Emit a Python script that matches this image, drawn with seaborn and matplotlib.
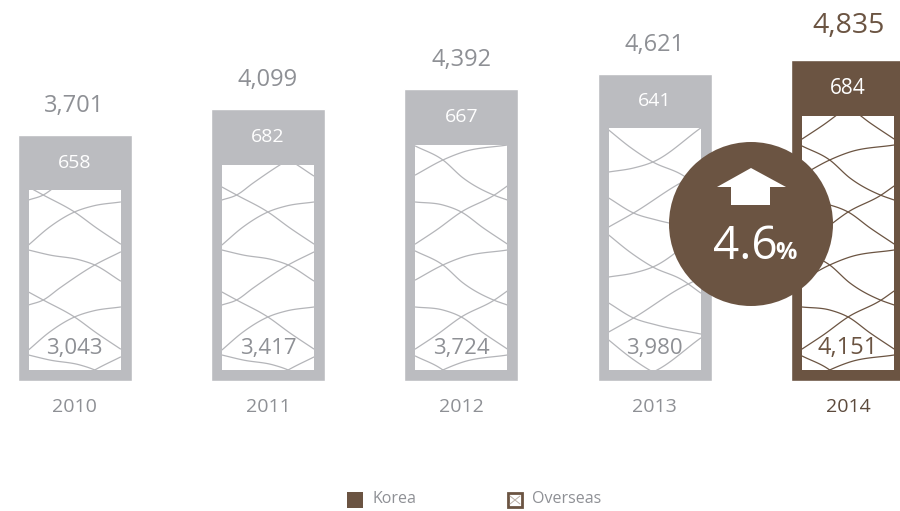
import numpy as np
import pandas as pd
import matplotlib
matplotlib.use("Agg")
import matplotlib.pyplot as plt
from matplotlib.patches import Circle, Polygon, Rectangle
from matplotlib.transforms import Affine2D
import seaborn as sns

years = ["2010", "2011", "2012", "2013", "2014"]
korea = [658, 682, 667, 641, 684]
overseas = [3043, 3417, 3724, 3980, 4151]
totals = [3701, 4099, 4392, 4621, 4835]
growth_label = "4.6"

GREY = "#bbbcc0"
BROWN = "#6b5442"
TEXT_GREY = "#8e9095"

W, H, BASE = 900, 511, 381
PX_PER_UNIT = 0.0664
BAR_W, STEP, FIRST_X = 114, 193.4, 74.5
FRAME = 11

# Lattice strands: (fraction across the window, px above the window floor)
LATTICE_A = [
    [(0, 183), (.16, 175), (.5, 158), (.74, 142), (1, 126)],
    [(0, 125), (.23, 143), (.5, 158), (.7, 164), (1, 168)],
    [(0, 120), (.23, 115), (.56, 110), (.72, 105), (1, 89)],
    [(0, 65), (.16, 70), (.34, 82), (.72, 105), (1, 118)],
]
LATTICE_B = [
    [(0, 224), (.3, 210), (.52, 192), (.85, 175), (1, 170)],
    [(0, 195), (.3, 210), (.52, 218), (1, 225)],
    [(0, 168), (.3, 165), (.5, 158), (.74, 142), (1, 126)],
    [(0, 126), (.23, 140), (.5, 158), (.86, 175), (1, 184)],
]
LATTICE_C = [
    [(0, 240), (.23, 223), (.48, 208), (.8, 195), (1, 182)],
    [(0, 198), (.27, 202), (.48, 208), (1, 242)],
    [(0, 172), (.27, 157), (.52, 150), (1, 141)],
    [(0, 143), (.27, 157), (.8, 188), (1, 197)],
]
window_lattice = [LATTICE_A, LATTICE_A, LATTICE_B, LATTICE_C, LATTICE_B]
PERIOD = 105

sns.set_theme(style="white")
plt.rcParams["font.family"] = ["Open Sans", "DejaVu Sans"]


def smooth(points, n=24):
    """Cubic Hermite curve through (x, y) points with unevenly spaced x."""
    xs, ys = np.array(points, dtype=float).T
    slopes = np.gradient(ys, xs)
    out_x, out_y = [], []
    for i in range(len(xs) - 1):
        h = xs[i + 1] - xs[i]
        t = np.linspace(0, 1, n)
        out_x.append(xs[i] + h * t)
        out_y.append((2 * t**3 - 3 * t**2 + 1) * ys[i] + (t**3 - 2 * t**2 + t) * h * slopes[i]
                     + (-2 * t**3 + 3 * t**2) * ys[i + 1] + (t**3 - t**2) * h * slopes[i + 1])
    return np.concatenate(out_x), np.concatenate(out_y)


fig = plt.figure(figsize=(W / 100, H / 100), dpi=100)
ax = fig.add_axes([0, (H - BASE) / H, 1, BASE / H])
px = Affine2D().scale(1, -1).translate(0, H)

df = pd.DataFrame({"year": years, "total": totals})
colors = [GREY, GREY, GREY, GREY, BROWN]
sns.barplot(data=df, x="year", y="total", hue="year", palette=colors, legend=False,
            width=BAR_W / STEP, saturation=1, ax=ax)
ax.set_xlim(-FIRST_X / STEP, (W - FIRST_X) / STEP)
ax.set_ylim(0, BASE / PX_PER_UNIT)
ax.set_xlabel("")
ax.set_ylabel("")
ax.set_yticks([])
sns.despine(ax=ax, left=True, bottom=True, top=True, right=True)
ax.tick_params(axis="x", length=0, pad=12, labelsize=14, colors=TEXT_GREY)
ax.get_xticklabels()[-1].set_color("#5c4a3c")

half_in = (BAR_W / 2 - FRAME) / STEP
frame_y = FRAME / PX_PER_UNIT
for i, (ov, kr, tot, col) in enumerate(zip(overseas, korea, totals, colors)):
    # White window inset in the Overseas segment; the frame is drawn inside its edge
    window = Rectangle((i - half_in, frame_y), 2 * half_in, ov - 2 * frame_y,
                       fc="white", ec="none", zorder=3)
    ax.add_patch(window)
    for k in range(-3, 3):
        for strand in window_lattice[i]:
            sx, sy = smooth(strand)
            line, = ax.plot(i - half_in + sx * 2 * half_in,
                            frame_y + (sy + k * PERIOD) / PX_PER_UNIT,
                            color=col if col == BROWN else "#b4b5b9",
                            lw=0.9, zorder=4)
            line.set_clip_path(window)
    big = i == len(years) - 1
    label_c = BROWN if big else TEXT_GREY
    ax.annotate(f"{tot:,}", (i, tot), xytext=(0, 34 if big else 29), textcoords="offset pixels",
                ha="center", va="center", fontsize=20.5 if big else 17, color=label_c)
    ax.text(i, (tot + ov - frame_y) / 2, f"{kr}", ha="center", va="center", color="white",
            fontsize=15 if big else 14, zorder=6)
    ax.text(i, frame_y + 22 / PX_PER_UNIT, f"{ov:,}", ha="center", va="center",
            color=label_c, fontsize=17 if big else 16, zorder=6)

# Growth badge
ax.add_patch(Circle((751, 224), 82, fc=BROWN, ec="none", transform=px, zorder=7, clip_on=False))
ax.add_patch(Polygon([(751, 168), (786, 187), (770, 187), (770, 205), (731, 205), (731, 187), (717, 187)],
                     closed=True, fc="white", ec="none", transform=px, zorder=8, clip_on=False))
ax.text(745, 247, growth_label, ha="center", va="center", color="white", fontsize=33,
        transform=px, zorder=9)
ax.text(786, 253, "%", ha="center", va="center", color="white", fontsize=17, fontweight="bold",
        transform=px, zorder=9)

# Key below the chart
ax.add_patch(Rectangle((347, 492), 16, 16, fc=BROWN, ec="none", transform=px, clip_on=False))
ax.text(372, 499, "Korea", ha="left", va="center", color=TEXT_GREY, fontsize=11.5, transform=px)
ax.add_patch(Rectangle((508, 493), 14, 14, fc="white", ec=BROWN, lw=2, transform=px, clip_on=False))
ax.plot([510, 520], [496, 504], color="#b9aea5", lw=0.7, transform=px, clip_on=False)
ax.plot([510, 520], [504, 496], color="#b9aea5", lw=0.7, transform=px, clip_on=False)
ax.text(532, 499, "Overseas", ha="left", va="center", color=TEXT_GREY, fontsize=11.5, transform=px)

fig.savefig("out.png", dpi=100)
